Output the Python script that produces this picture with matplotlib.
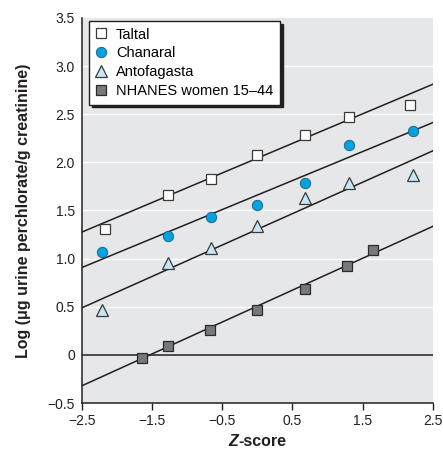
import numpy as np
import matplotlib
matplotlib.use('Agg')
import matplotlib.pyplot as plt
from matplotlib.offsetbox import TextArea, HPacker, AnchoredOffsetbox

plt.rcParams['font.family'] = ['Liberation Sans Narrow', 'Liberation Sans', 'DejaVu Sans']

# Données
z_nhanes = [-1.645, -1.28, -0.674, 0.0, 0.674, 1.28, 1.645]
z_taltal = [-2.17, -1.28, -0.66, 0.0, 0.68, 1.31, 2.17]
z_chile = [-2.21, -1.28, -0.66, 0.0, 0.68, 1.31, 2.22]

taltal = [1.31, 1.66, 1.83, 2.08, 2.28, 2.47, 2.59]
chanaral = [1.07, 1.23, 1.43, 1.56, 1.79, 2.18, 2.32]
antofagasta = [0.47, 0.95, 1.11, 1.34, 1.63, 1.79, 1.87]
nhanes = [-0.03, 0.09, 0.26, 0.47, 0.68, 0.92, 1.09]

# Droites ajustées : ordonnée à z=0 et pente
fit_intercept = {'Taltal': 2.043, 'Chanaral': 1.66, 'Antofagasta': 1.304, 'NHANES': 0.507}
fit_slope = {'Taltal': 0.307, 'Chanaral': 0.301, 'Antofagasta': 0.326, 'NHANES': 0.331}

fig = plt.figure(figsize=(4.43, 4.58), dpi=100)
ax = fig.add_axes([0.185, 0.12, 0.792, 0.841])
ax.set_facecolor('#e6e7e8')

ax.set_xlim(-2.5, 2.5)
ax.set_ylim(-0.5, 3.5)

# Grille blanche horizontale
for yv in [0.5, 1.0, 1.5, 2.0, 2.5, 3.0]:
    ax.axhline(yv, color='white', lw=1.0, zorder=1)
ax.axhline(0, color='#231f20', lw=1.1, zorder=2)

# Droites
zz = np.array([-2.5, 2.5])
for name in ['Taltal', 'Chanaral', 'Antofagasta', 'NHANES']:
    ax.plot(zz, fit_intercept[name] + fit_slope[name] * zz, color='#231f20', lw=1.1, zorder=3)

edge = '#3a3a3a'
ax.plot(z_taltal, taltal, ls='none', marker='s', ms=7.5, mfc='white', mec=edge, mew=0.9,
        label='Taltal', zorder=4)
ax.plot(z_chile, chanaral, ls='none', marker='o', ms=7.5, mfc='#00a3e0', mec='#1a5a78', mew=0.6,
        label='Chanaral', zorder=4)
ax.plot(z_chile, antofagasta, ls='none', marker='^', ms=9, mfc='#c4e6f6', mec=edge, mew=0.9,
        label='Antofagasta', zorder=4)
ax.plot(z_nhanes, nhanes, ls='none', marker='s', ms=7.5, mfc='#77787b', mec='#2a2a2a', mew=0.9,
        label='NHANES women 15\u201344', zorder=4)

ax.set_xticks([-2.5, -1.5, -0.5, 0.5, 1.5, 2.5])
ax.set_xticklabels(['\u22122.5', '\u22121.5', '\u22120.5', '0.5', '1.5', '2.5'])
ax.set_yticks([-0.5, 0, 0.5, 1.0, 1.5, 2.0, 2.5, 3.0, 3.5])
ax.set_yticklabels(['\u22120.5', '0', '0.5', '1.0', '1.5', '2.0', '2.5', '3.0', '3.5'])
ax.tick_params(axis='x', direction='out', length=5, width=1, labelsize=10, pad=3,
               colors='#231f20')
ax.tick_params(axis='y', length=0, labelsize=10, pad=5, colors='#231f20')

for s in ['top', 'right']:
    ax.spines[s].set_visible(False)
for s in ['left', 'bottom']:
    ax.spines[s].set_color('#231f20')
    ax.spines[s].set_linewidth(1.1)

leg = ax.legend(loc='upper left', bbox_to_anchor=(0.02, 0.992), borderaxespad=0,
                fancybox=False, edgecolor='#231f20', framealpha=1, fontsize=10.5,
                handlelength=0.8, handletextpad=0.6, labelspacing=0.33, borderpad=0.45,
                shadow={'color': '#231f20', 'alpha': 1})
leg.get_frame().set_linewidth(1.0)

ax.set_ylabel('Log (\u03bcg urine perchlorate/g creatinine)', fontsize=11.5, fontweight='bold',
              labelpad=12, color='#231f20')

# Titre de l'axe x : Z en italique gras
t1 = TextArea('Z', textprops=dict(fontsize=11.5, fontweight='bold', fontstyle='italic',
                                  color='#231f20'))
t2 = TextArea('-score', textprops=dict(fontsize=11.5, fontweight='bold', color='#231f20'))
box = HPacker(children=[t1, t2], align='baseline', pad=0, sep=0.5)
anchored = AnchoredOffsetbox(loc='upper center', child=box, pad=0, frameon=False,
                             bbox_to_anchor=(0.5, -0.08), bbox_transform=ax.transAxes,
                             borderpad=0)
ax.add_artist(anchored)

fig.savefig('out.png', dpi=100)
